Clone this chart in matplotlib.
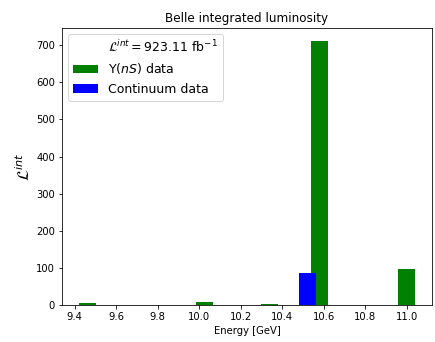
import matplotlib.pyplot as plt
from matplotlib.patches import Patch

# bin centres [GeV] and integrated luminosity [fb^-1]
ups_energy = [9.46, 10.025, 10.34, 10.58, 11.0]
ups_lumi = [5.7, 7.5, 2.9, 711.0, 98.0]
cont_energy = [10.52]
cont_lumi = [87.5]
total_lumi = 923.11
bin_width = 0.081

fig = plt.figure(figsize=(435 / 72, 342 / 72), dpi=72)
ax = fig.add_axes([62 / 435, 37 / 342, 370 / 435, 277 / 342])

ax.bar(ups_energy, ups_lumi, width=bin_width, color="green", label=r"$\Upsilon(nS)$ data")
ax.bar(cont_energy, cont_lumi, width=bin_width, color="blue", label="Continuum data")

handles, labels = ax.get_legend_handles_labels()
blank = Patch(facecolor="none", edgecolor="none")
handles = [blank] + handles
labels = [r"$\mathcal{L}^{int} = %.2f$ fb$^{-1}$" % total_lumi] + labels
ax.legend(handles, labels, loc="upper left", fontsize=12.5)

ax.set_title("Belle integrated luminosity")
ax.set_xlabel("Energy [GeV]")
ax.set_ylabel(r"$\mathcal{L}^{int}$", fontsize=16)

fig.savefig("out.png", dpi=72)
